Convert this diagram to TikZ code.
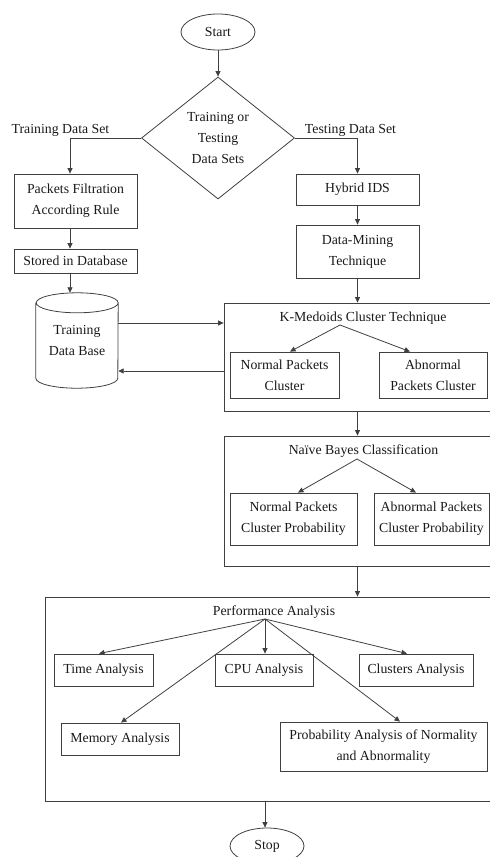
\documentclass[tikz,border=0pt]{standalone}
\usepackage{fontspec}
\setmainfont{Liberation Serif}
\usetikzlibrary{shapes.geometric,arrows.meta,calc}
\begin{document}
\begin{tikzpicture}[x=1pt,y=-1pt,
  every node/.style={font=\fontsize{13.8}{21}\selectfont, text=black!90, inner sep=0pt, align=center},
  box/.style={draw=black!75, line width=0.8pt, rectangle},
  frame/.style={draw=black!75, line width=0.8pt, rectangle},
  ln/.style={draw=black!75, line width=0.8pt},
  arr/.style={draw=black!75, line width=0.8pt, -{Triangle[length=5.5pt,width=5pt]}},
  term/.style={draw=black!75, line width=0.8pt, ellipse, minimum width=74pt, minimum height=36pt}]
\useasboundingbox (0,0) rectangle (490,857);
\clip (0,0) rectangle (490,857);

% helper coordinates for vertical connector lines
\coordinate (lx) at (70,0);
\coordinate (cx) at (357.5,0);
\coordinate (sx) at (265,0);

% top part
\node[term] (start) at (218,32) {Start};
\node[draw=black!75, line width=0.8pt, diamond, minimum width=153pt, minimum height=122pt] (dec) at (218,138) {Training or\\Testing\\Data Sets};
\node (ltrain) at (60.5,130) {Training Data Set};
\node (ltest) at (350.5,130) {Testing Data Set};

\node[box, minimum width=123pt, minimum height=54pt] (pf) at (75.5,201) {Packets Filtration\\According Rule};
\node[box, minimum width=123pt, minimum height=24pt] (st) at (75.5,261) {Stored in Database};
\node[minimum width=82pt, minimum height=95pt] (db) at (77,340.5) {Training\\Data Base};
\draw[ln] ($(db.north west)+(0,10)$) -- ($(db.south west)+(0,-10)$)
  arc[start angle=180, end angle=360, x radius=41pt, y radius=10pt]
  -- ($(db.north east)+(0,10)$)
  arc[start angle=0, end angle=360, x radius=41pt, y radius=10pt];

\node[box, minimum width=123pt, minimum height=31pt] (hids) at (357.5,189.5) {Hybrid IDS};
\node[box, minimum width=123pt, minimum height=53pt] (dm) at (357.5,251.5) {Data-Mining\\Technique};

% K-Medoids
\node[frame, minimum width=296pt, minimum height=108pt] (kmf) at (372,357) {};
\node (kmt) at (363,318) {K-Medoids Cluster Technique};
\coordinate (kmA) at (340,325);
\node[box, minimum width=109pt, minimum height=46pt] (npc) at (284.5,375) {Normal Packets\\Cluster};
\node[box, minimum width=108pt, minimum height=46pt] (apc) at (433,375) {Abnormal\\Packets Cluster};

% Naive Bayes
\node[frame, minimum width=296pt, minimum height=130pt] (nbf) at (372,501) {};
\node (nbt) at (363.5,451) {Naïve Bayes Classification};
\coordinate (nbA) at (357,459);
\node[box, minimum width=127pt, minimum height=52pt] (npp) at (293.5,519) {Normal Packets\\Cluster Probability};
\node[box, minimum width=115pt, minimum height=52pt] (app) at (431.5,519) {Abnormal Packets\\Cluster Probability};

% Performance
\node[frame, minimum width=475pt, minimum height=204pt] (paf) at (282.5,699) {};
\node (pat) at (274,612) {Performance Analysis};
\coordinate (paA) at (265,619);
\node[box, minimum width=99pt, minimum height=32pt] (ta) at (103.5,670) {Time Analysis};
\node[box, minimum width=98pt, minimum height=32pt] (cpu) at (264,670) {CPU Analysis};
\node[box, minimum width=114pt, minimum height=32pt] (ca) at (416,670) {Clusters Analysis};
\node[box, minimum width=118pt, minimum height=32pt] (ma) at (120,739) {Memory Analysis};
\node[box, minimum width=207pt, minimum height=49pt] (prob) at (383.5,746.5) {Probability Analysis of Normality\\and Abnormality};

\node[term] (stop) at (267,846) {Stop};

% connectors
\draw[arr] (start) -- (dec);
\draw[arr] (dec.west) -| (pf.north -| lx);
\draw[arr] (dec.east) -| (hids.north);
\draw[arr] (pf.south -| lx) -- (st.north -| lx);
\draw[arr] (st.south -| lx) -- (db.north -| lx);
\draw[arr] (hids) -- (dm);
\draw[arr] (dm.south -| cx) -- (kmf.north -| cx);
\draw[arr] ($(db.east)+(0,-17.5)$) coordinate (a1) -- (a1 -| kmf.west);
\draw[arr] ($(kmf.west)+(0,14)$) coordinate (a2) -- (a2 -| db.east);
\draw[arr] (kmA) -- ($(npc.north)+(5.5,0)$);
\draw[arr] (kmA) -- ($(apc.north)+(-23,0)$);
\draw[arr] (kmf.south -| cx) -- (nbf.north -| cx);
\draw[arr] (nbA) -- ($(npp.north)+(4.5,0)$);
\draw[arr] (nbA) -- ($(app.north)+(-15.5,0)$);
\draw[arr] (nbf.south -| cx) -- (paf.north -| cx);
\draw[arr] (paA) -- ($(ta.north)+(-4.5,0)$);
\draw[arr] (paA) -- (cpu.north -| sx);
\draw[arr] (paA) -- ($(ca.north)+(-9,0)$);
\draw[arr] (paA) -- ($(ma.north)+(1,0)$);
\draw[arr] (paA) -- ($(prob.north)+(16.5,0)$);
\draw[arr] (paf.south -| sx) -- (stop.north -| sx);
\end{tikzpicture}
\end{document}
